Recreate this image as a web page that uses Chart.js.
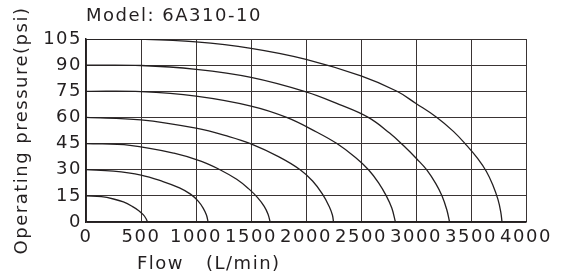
<!DOCTYPE html>
<html>
<head>
<meta charset="utf-8">
<script src="https://cdn.jsdelivr.net/npm/chart.js@4"></script>
<style>
  html, body { margin: 0; padding: 0; background: #fff; }
  #chart { display: block; }
</style>
</head>
<body>
<canvas id="chart" width="562" height="275"></canvas>
<script>
// flow (L/min) / pressure (psi), one pair per starting pressure
const flow15 = [0, 140, 250, 340, 420, 480, 520, 545, 560];
const psi15 = [15, 14.5, 13.2, 11.5, 9, 6.5, 4.2, 2, 0];
const flow30 = [0, 250, 500, 700, 850, 950, 1020, 1065, 1095, 1110];
const psi30 = [30, 29.2, 26.9, 23.2, 19.6, 16, 12, 8, 4, 0];
const flow45 = [0, 400, 800, 1050, 1218, 1370, 1480, 1560, 1620, 1655, 1674];
const psi45 = [45, 44, 39.5, 34.8, 30, 24.5, 19, 14, 9, 4.5, 0];
const flow60 = [0, 500, 1000, 1300, 1500, 1750, 1947, 2060, 2150, 2210, 2240, 2250];
const psi60 = [60, 58.6, 53.8, 49, 44.8, 37.5, 30, 23.5, 16, 9, 4, 0];
const flow75 = [0, 500, 1000, 1500, 1824, 2100, 2281, 2450, 2568, 2660, 2730, 2780, 2813];
const psi75 = [75, 74.8, 72.2, 66.5, 60, 51.5, 45, 37, 30, 22.5, 15, 8, 0];
const flow90 = [0, 500, 1000, 1500, 2000, 2300, 2566, 2760, 2900, 3010, 3096, 3180, 3236, 3280, 3305];
const psi90 = [90, 89.8, 87.6, 83, 74.7, 67.5, 60, 51, 43, 36, 30, 22, 15, 7, 0];
const flow105 = [0, 500, 1000, 1500, 2000, 2500, 2827, 3000, 3190, 3340, 3460, 3560, 3640, 3700, 3745, 3770, 3782];
const psi105 = [105, 104.8, 103.3, 99.6, 93.3, 83.8, 75, 68, 60, 52, 44, 36.5, 29, 21, 13, 6, 0];

const series = [
  [flow15, psi15], [flow30, psi30], [flow45, psi45], [flow60, psi60],
  [flow75, psi75], [flow90, psi90], [flow105, psi105]
];

const titleText = 'Model: 6A310-10';
const yTitle = 'Operating pressure(psi)';
const xTitleA = 'Flow';
const xTitleB = '(L/min)';

const ink = '#231f20';
const FONT = 'DejaVu Sans';

// letter spacing makes DejaVu look closer to the wide original face
const spacing = {
  id: 'spacing',
  beforeUpdate(chart) { chart.ctx.letterSpacing = '1.5px'; },
  beforeDraw(chart) { chart.ctx.letterSpacing = '1.5px'; }
};

const xTitlePlugin = {
  id: 'xTitle',
  afterDraw(chart) {
    const ctx = chart.ctx;
    ctx.save();
    ctx.letterSpacing = '1.5px';
    ctx.fillStyle = ink;
    ctx.font = '18px "' + FONT + '"';
    ctx.textBaseline = 'alphabetic';
    ctx.textAlign = 'left';
    ctx.fillText(xTitleA, 137, 269);
    ctx.fillText(xTitleB, 206, 269);
    ctx.restore();
  }
};

function makeDatasets() {
  return series.map(([xs, ys]) => ({
    data: xs.map((x, i) => ({x: x, y: ys[i]})),
    showLine: true,
    pointRadius: 0,
    borderColor: ink,
    borderWidth: 1.3,
    tension: 0.4,
    fill: false
  }));
}

const ctx = document.getElementById('chart').getContext('2d');
const chart = new Chart(ctx, {
  type: 'scatter',
  data: { datasets: makeDatasets() },
  options: {
    responsive: false,
    animation: false,
    events: [],
    layout: { padding: { top: 0, right: 36, bottom: 0, left: 0 } },
    plugins: {
      legend: { display: false },
      tooltip: { enabled: false },
      title: {
        display: true,
        text: titleText,
        align: 'start',
        fullSize: false,
        color: ink,
        font: { family: FONT, size: 18, weight: 'normal' },
        padding: { top: 6, bottom: 11.4 }
      }
    },
    scales: {
      x: {
        type: 'linear',
        min: 0,
        max: 4000,
        ticks: {
          stepSize: 500,
          color: ink,
          padding: 5,
          maxRotation: 0,
          autoSkip: false,
          font: { family: FONT, size: 18 },
          callback: v => String(v)
        },
        grid: { color: '#3a3434', lineWidth: 1, drawTicks: false },
        border: { display: true, color: ink, width: 1.5 },
        afterFit(scale) { scale.height = 53; }
      },
      y: {
        min: 0,
        max: 105,
        ticks: {
          stepSize: 15,
          color: ink,
          padding: 4,
          autoSkip: false,
          font: { family: FONT, size: 18 }
        },
        grid: { color: '#3a3434', lineWidth: 1, drawTicks: false },
        border: { display: true, color: ink, width: 1.5 },
        title: {
          display: true,
          text: yTitle,
          color: ink,
          font: { family: FONT, size: 18 },
          padding: { top: 12, bottom: 0 }
        },
        afterFit(scale) { scale.width = 86; }
      }
    }
  },
  plugins: [spacing, xTitlePlugin]
});
</script>
</body>
</html>
